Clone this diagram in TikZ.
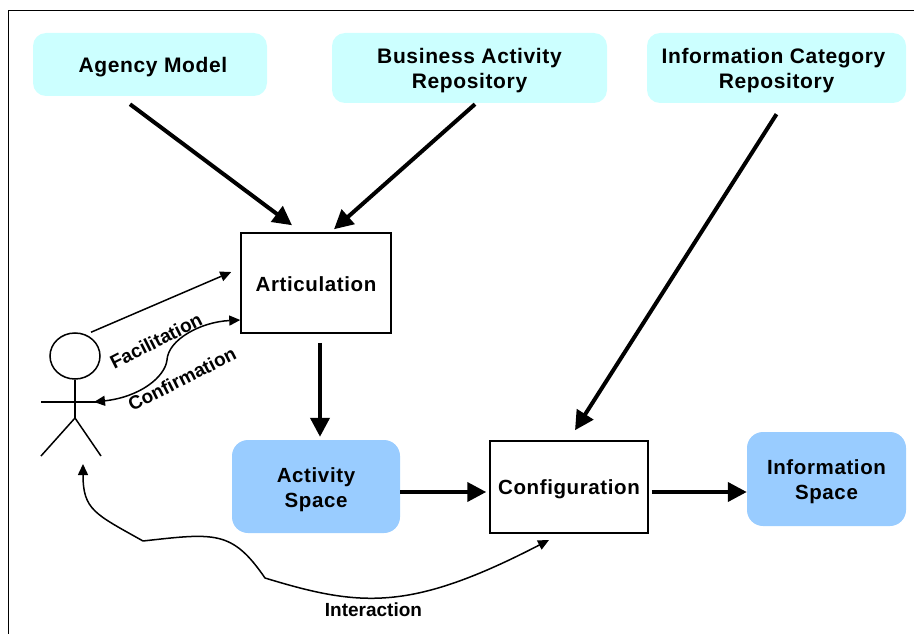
\documentclass[tikz,border=0pt]{standalone}
\usepackage{fontspec}
\setmainfont{Liberation Sans}[LetterSpace=3.0]
\newfontfamily\labelfont{Liberation Sans}
\usetikzlibrary{arrows.meta,calc,shapes.geometric}
\definecolor{palecyan}{HTML}{CCFFFF}
\definecolor{paleblue}{HTML}{99CCFF}
\tikzset{
  source/.style={fill=palecyan,rounded corners=13pt,inner sep=0pt,align=center,font=\fontsize{21}{25}\selectfont\bfseries},
  space/.style={fill=paleblue,rounded corners=16pt,inner sep=0pt,align=center,font=\fontsize{20.5}{25}\selectfont\bfseries},
  process/.style={draw,line width=1.5pt,inner sep=0pt,align=center,font=\fontsize{20.5}{25}\selectfont\bfseries},
  flow/.style={line width=4pt,-{Triangle[length=19pt,width=19pt]}},
  link/.style={line width=1.5pt,-{Triangle[length=11pt,width=10pt]}},
  twolink/.style={line width=1.5pt,{Triangle[length=11pt,width=10pt]}-{Triangle[length=11pt,width=10pt]}},
  limb/.style={line width=1.5pt},
  caption/.style={inner sep=0pt,font=\labelfont\fontsize{19}{22}\selectfont\bfseries}
}
\begin{document}
\begin{tikzpicture}[x=1pt,y=-1pt]
  \useasboundingbox (0,0) rectangle (914,634);
  \draw[line width=1.5pt](8.5,634)--(8.5,10.5)--(914,10.5);
  % sources
  \node[source,minimum width=234pt,minimum height=63pt,text height=21pt] (agency) at (150,64.5) {\hspace*{6pt}Agency Model};
  \node[source,minimum width=275pt,minimum height=70pt,text height=46pt] (business) at (469.5,68) {Business Activity\\Repository};
  \node[source,minimum width=259pt,minimum height=70pt,text height=46pt] (category) at (776.5,68) {Information Category\hspace*{6pt}\\Repository};
  % processes
  \node[process,minimum width=150pt,minimum height=100pt,text height=17pt] (articulation) at (316,283) {Articulation};
  \node[process,minimum width=158pt,minimum height=92pt,text height=19pt] (configuration) at (569,487) {Configuration};
  % spaces
  \node[space,minimum width=168pt,minimum height=93pt,text height=46pt] (activity) at (316,486.5) {Activity\\Space};
  \node[space,minimum width=159pt,minimum height=94pt,text height=46pt] (information) at (826.5,479) {Information\\Space};
  % actor
  \node[draw,limb,ellipse,minimum width=50pt,minimum height=46pt,inner sep=0pt] (head) at (75,356) {};
  \coordinate (hip) at (75,418);
  \coordinate (armleft) at (41,402);
  \coordinate (armright) at (100,402);
  \coordinate (footleft) at (41,456);
  \coordinate (footright) at (101,456);
  \draw[limb](head.south)--(hip);
  \draw[limb](armleft)--(armright);
  \draw[limb](footleft)--(hip)--(footright);
  % thick flows
  \draw[flow]([xshift=-20pt,yshift=-8pt]agency.south)--([xshift=-24pt,yshift=7pt]articulation.north);
  \draw[flow]([xshift=5.5pt,yshift=-1pt]business.south)--([xshift=18pt,yshift=3pt]articulation.north);
  \draw[flow]([yshift=-11pt]category.south)--([xshift=6pt,yshift=10pt]configuration.north);
  \draw[flow]([xshift=4pt,yshift=-9pt]articulation.south)--([xshift=4pt,yshift=3pt]activity.north);
  \draw[flow]([yshift=-5.5pt]activity.east)--([xshift=-3pt,yshift=-5pt]configuration.west);
  \draw[flow]([xshift=3pt,yshift=-5pt]configuration.east)--([yshift=-13pt]information.west);
  % thin links
  \coordinate (tipconfirm) at (94,402);
  \coordinate (bendconfirm) at (167,360);
  \coordinate (tipactor) at (83,464);
  \coordinate (kinkone) at (143,541);
  \coordinate (kinktwo) at (265,578);
  \coordinate (tipconfig) at (549,540);
  \draw[link]([xshift=16pt]head.north)--([xshift=-9pt,yshift=11pt]articulation.west);
  \draw[twolink]([yshift=-37pt]articulation.west)..controls (200,322) and (168,340)..(bendconfirm)
    ..controls (165,377) and (140,397)..(tipconfirm);
  \draw[twolink,line join=round](tipactor)..controls (83,510) and (95,514)..(kinkone)
    ..controls (215,533) and (232,530)..(kinktwo)
    ..controls (360,607) and (410,612)..(tipconfig);
  % labels
  \node[caption,rotate=27] (facilitation) at (156,341) {Facilitation};
  \node[caption,rotate=27] (confirmation) at (182,379) {Confirmation};
  \node[caption] (interaction) at (373.5,610) {Interaction};
\end{tikzpicture}
\end{document}
